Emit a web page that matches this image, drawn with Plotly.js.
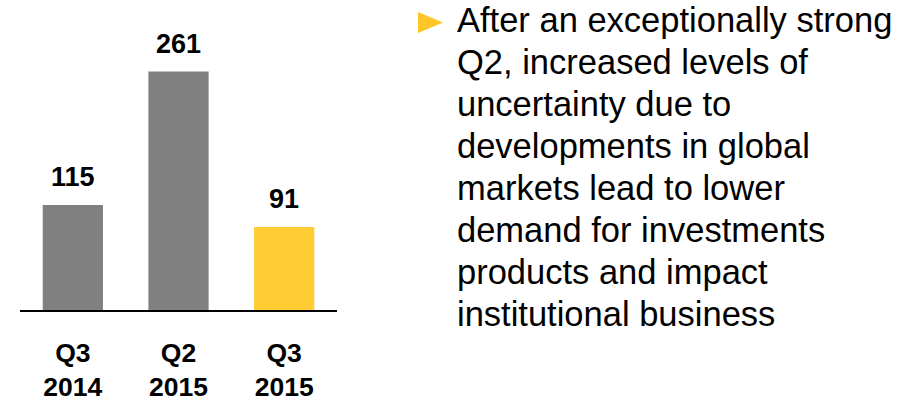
<!DOCTYPE html>
<html>
<head>
<meta charset="utf-8">
<script src="https://cdn.plot.ly/plotly-3.0.1.min.js"></script>
<style>
  html, body { margin: 0; padding: 0; background: #ffffff; }
  #chart { width: 919px; height: 406px; }
</style>
</head>
<body>
<div id="chart"></div>
<script>
// ---- data ----
const categories = ["Q3<br>2014", "Q2<br>2015", "Q3<br>2015"];
const values = [115, 261, 91];
const barColors = ["#808080", "#808080", "#FFCC33"];
const bulletLines = [
  "After an exceptionally strong",
  "Q2, increased levels of",
  "uncertainty due to",
  "developments in global",
  "markets lead to lower",
  "demand for investments",
  "products and impact",
  "institutional business"
];

// ---- layout geometry ----
const W = 919, H = 406;
const M = { l: 20, r: 582, t: 36, b: 96 };
const plotW = W - M.l - M.r, plotH = H - M.t - M.b;
const px2x = (px) => (px - M.l) / plotW;
const px2y = (py) => (H - M.b - py) / plotH;

const FONT = "Liberation Sans, Arial, sans-serif";

const annotations = [];
// value labels
values.forEach((v, i) => {
  annotations.push({
    x: categories[i], y: v, xref: "x", yref: "y",
    text: "<b>" + v + "</b>", showarrow: false,
    xanchor: "center", yanchor: "bottom", yshift: 11,
    font: { family: FONT, size: 27, color: "#000000" }
  });
});
// bullet text lines
const textSize = 34.5;
bulletLines.forEach((line, i) => {
  const baseline = 33 + 42 * i;
  annotations.push({
    x: px2x(455), y: px2y(baseline + 8), xref: "paper", yref: "paper",
    text: line, showarrow: false,
    xanchor: "left", yanchor: "bottom",
    font: { family: FONT, size: textSize, color: "#000000" }
  });
});

const shapes = [{
  type: "path", xref: "paper", yref: "paper",
  path: `M ${px2x(418)} ${px2y(12)} L ${px2x(443)} ${px2y(22.5)} L ${px2x(418)} ${px2y(33)} Z`,
  fillcolor: "#FFC629", line: { width: 0 }
}];

const trace = {
  type: "bar",
  x: categories,
  y: values,
  marker: { color: barColors, line: { width: 0 } },
  hoverinfo: "skip"
};

const layout = {
  width: W, height: H,
  margin: M,
  paper_bgcolor: "#ffffff",
  plot_bgcolor: "#ffffff",
  bargap: 0.43,
  showlegend: false,
  xaxis: {
    type: "category",
    range: [-0.5, 2.5],
    showline: true, linecolor: "#000000", linewidth: 2,
    showgrid: false, zeroline: false,
    ticks: "", ticklabelstandoff: 18,
    tickfont: { family: FONT, size: 26.5, color: "#000000", weight: "bold" }
  },
  yaxis: {
    range: [0, 300],
    visible: false, showgrid: false, zeroline: false
  },
  annotations: annotations,
  shapes: shapes
};

Plotly.newPlot("chart", [trace], layout, { displayModeBar: false, staticPlot: true });
</script>
</body>
</html>
